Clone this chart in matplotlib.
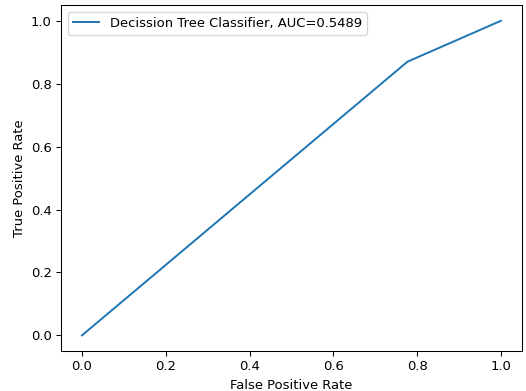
import matplotlib
matplotlib.use("Agg")
import matplotlib.pyplot as plt

# ROC curve points
fpr = [0.0, 0.777, 1.0]
tpr = [0.0, 0.870, 1.0]
label = "Decission Tree Classifier, AUC=0.5489"

DPI = 94.5
fig = plt.figure(figsize=(526 / DPI, 391 / DPI), dpi=DPI)
ax = fig.add_axes([0.116, 0.102, 0.876, 0.885])
ax.plot(fpr, tpr, label=label)
ax.set_xlabel("False Positive Rate")
ax.set_ylabel("True Positive Rate")
ax.legend(loc="upper left")

fig.savefig("out.png", dpi=DPI)
